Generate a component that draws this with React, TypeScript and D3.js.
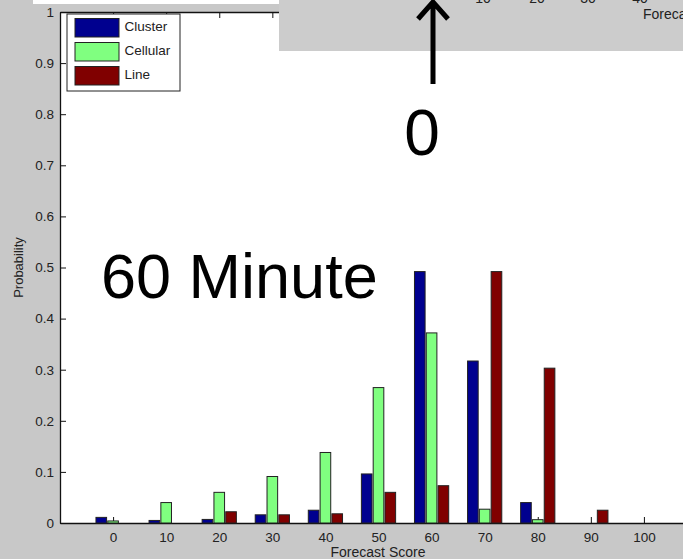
import React, { useEffect, useRef } from 'react'
import * as d3 from 'd3'

// forecast score bins and probabilities per storm type
const scores = [0, 10, 20, 30, 40, 50, 60, 70, 80, 90, 100]
const cluster = [0.011, 0.005, 0.007, 0.016, 0.025, 0.096, 0.492, 0.317, 0.04, 0, 0]
const cellular = [0.004, 0.04, 0.06, 0.091, 0.138, 0.265, 0.372, 0.027, 0.0065, 0, 0]
const lineType = [0, 0, 0.022, 0.016, 0.018, 0.06, 0.073, 0.492, 0.303, 0.025, 0]
const seriesNames = ['Cluster', 'Cellular', 'Line']
const seriesColors = ['#00008f', '#80ff80', '#800000']
const yTicks = [0, 0.1, 0.2, 0.3, 0.4, 0.5, 0.6, 0.7, 0.8, 0.9, 1]
const ghostTicks = ['10', '20', '30', '40']

const W = 683
const H = 559
const FONT = '"Liberation Sans", Arial, Helvetica, sans-serif'

export default function App() {
  const svgRef = useRef(null)

  useEffect(() => {
    const svg = d3.select(svgRef.current)
    svg.selectAll('*').remove()

    svg.append('rect').attr('width', W).attr('height', H).attr('fill', '#c8c8c8')
    // strip of the slide above
    svg.append('rect').attr('x', 33).attr('y', 0).attr('width', 246).attr('height', 4).attr('fill', '#fff')

    const x = d3.scaleLinear().domain([-10, 110]).range([60, 697])
    const y = d3.scaleLinear().domain([0, 1]).range([523, 12])

    // white axes area
    svg
      .append('rect')
      .attr('x', x(-10))
      .attr('y', y(1))
      .attr('width', x(110) - x(-10))
      .attr('height', y(0) - y(1))
      .attr('fill', '#fff')

    // axes, MATLAB style ticks pointing inward (drawn under the bars)
    const xAxis = d3
      .axisBottom(x)
      .tickValues(scores)
      .tickSizeInner(-6)
      .tickSizeOuter(0)
      .tickPadding(9)
    const gx = svg.append('g').attr('transform', `translate(0,${y(0)})`).call(xAxis)

    const xTop = d3.axisTop(x).tickValues(scores).tickSizeInner(-6).tickSizeOuter(0).tickFormat(() => '')
    const gt = svg.append('g').attr('transform', `translate(0,${y(1)})`).call(xTop)

    const yAxis = d3
      .axisLeft(y)
      .tickValues(yTicks)
      .tickSizeInner(-6)
      .tickSizeOuter(0)
      .tickPadding(6)
      .tickFormat((d) => (d === 0 || d === 1 ? String(d) : d3.format('.1f')(d)))
    const gy = svg.append('g').attr('transform', `translate(${x(-10)},0)`).call(yAxis)

    ;[gx, gt, gy].forEach((g) => {
      g.select('.domain').attr('stroke', '#111').attr('stroke-width', 1.3)
      g.selectAll('.tick line').attr('stroke', '#111')
      g.selectAll('.tick text').attr('fill', '#222').style('font-family', FONT).style('font-size', '13.5px')
    })

    const groupW = x(6.67) - x(0)
    const inner = d3
      .scaleBand()
      .domain(seriesNames)
      .range([-groupW / 2, groupW / 2])
      .paddingInner(0.1)
      .paddingOuter(0.05)

    const rows = scores.map((s, i) => ({ s, vals: [cluster[i], cellular[i], lineType[i]] }))
    const groups = svg
      .selectAll('.grp')
      .data(rows)
      .enter()
      .append('g')
      .attr('class', 'grp')
      .attr('transform', (d) => `translate(${x(d.s)},0)`)

    groups
      .selectAll('rect')
      .data((d) => d.vals.map((v, k) => ({ v, k })).filter((e) => e.v > 0))
      .enter()
      .append('rect')
      .attr('x', (e) => inner(seriesNames[e.k]))
      .attr('y', (e) => y(e.v))
      .attr('width', inner.bandwidth())
      .attr('height', (e) => y(0) - y(e.v))
      .attr('fill', (e) => seriesColors[e.k])
      .attr('stroke', '#222')
      .attr('stroke-width', 1)

    svg
      .append('text')
      .attr('x', 378)
      .attr('y', 557)
      .attr('text-anchor', 'middle')
      .style('font-family', FONT)
      .style('font-size', '14px')
      .attr('fill', '#222')
      .text('Forecast Score')

    svg
      .append('text')
      .attr('transform', `translate(23,${(y(0) + y(1)) / 2}) rotate(-90)`)
      .attr('text-anchor', 'middle')
      .style('font-family', FONT)
      .style('font-size', '13px')
      .attr('fill', '#222')
      .text('Probability')

    // legend
    const lg = svg.append('g').attr('transform', 'translate(67,14)')
    lg.append('rect').attr('width', 113).attr('height', 77).attr('fill', '#fff').attr('stroke', '#222')
    seriesNames.forEach((name, k) => {
      lg.append('rect')
        .attr('x', 8)
        .attr('y', 4.5 + k * 24)
        .attr('width', 44)
        .attr('height', 18.5)
        .attr('fill', seriesColors[k])
        .attr('stroke', '#222')
      lg.append('text')
        .attr('x', 57.5)
        .attr('y', 16.5 + k * 24)
        .style('font-family', FONT)
        .style('font-size', '13.5px')
        .attr('fill', '#222')
        .text(name)
    })

    // overlay from the slide: clipped chart corner
    svg.append('rect').attr('x', 279).attr('y', 0).attr('width', W - 279).attr('height', 51).attr('fill', '#cccccc')
    const ghostX = [483, 537, 588, 640]
    ghostTicks.forEach((t, i) => {
      svg
        .append('text')
        .attr('x', ghostX[i])
        .attr('y', 3)
        .attr('text-anchor', 'middle')
        .style('font-family', FONT)
        .style('font-size', '14px')
        .attr('fill', '#222')
        .text(t)
    })
    svg
      .append('text')
      .attr('x', 643)
      .attr('y', 19)
      .style('font-family', FONT)
      .style('font-size', '14px')
      .attr('fill', '#222')
      .text('Forecast Score')

    // arrow and annotations
    svg
      .append('path')
      .attr('d', 'M433,84 L433,2 M418,19 L433,2 L448,19')
      .attr('fill', 'none')
      .attr('stroke', '#000')
      .attr('stroke-width', 5)
    svg
      .append('text')
      .attr('x', 422)
      .attr('y', 155)
      .attr('text-anchor', 'middle')
      .style('font-family', FONT)
      .style('font-size', '64px')
      .attr('fill', '#000')
      .text('0')
    svg
      .append('text')
      .attr('x', 101)
      .attr('y', 298)
      .style('font-family', FONT)
      .style('font-size', '63px')
      .attr('fill', '#000')
      .text('60 Minute')
  }, [])

  return (
    <svg
      ref={svgRef}
      width={W}
      height={H}
      style={{ position: 'absolute', left: 0, top: 0, display: 'block' }}
    ></svg>
  )
}
